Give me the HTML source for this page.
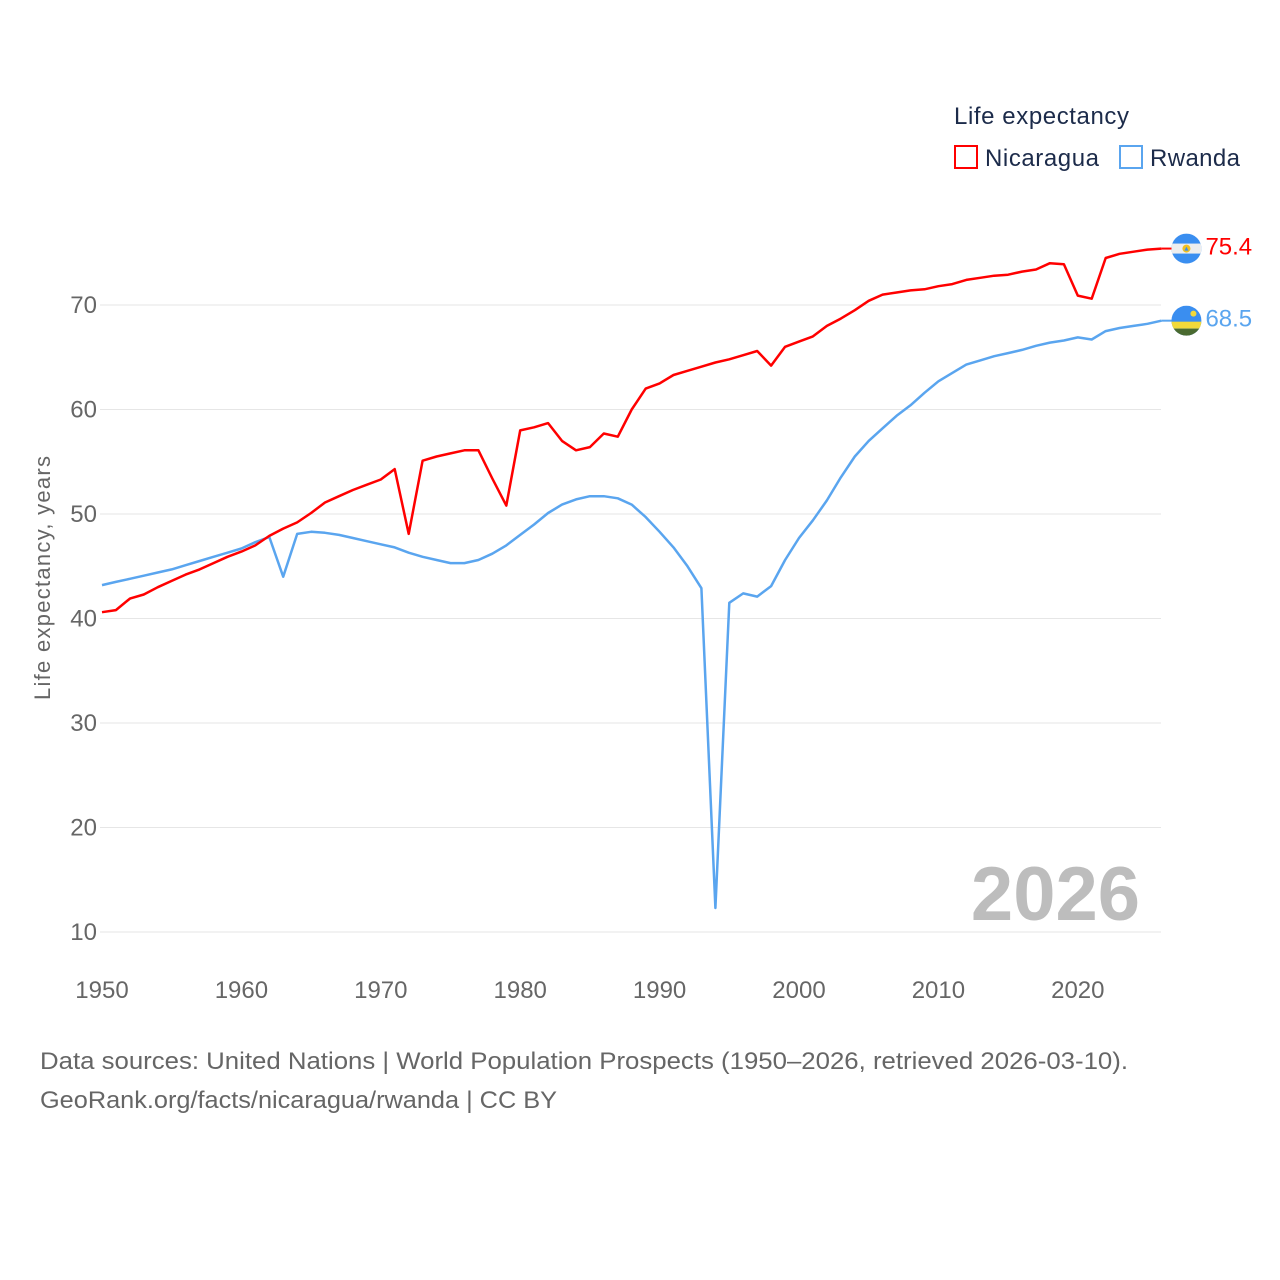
<!DOCTYPE html>
<html><head><meta charset="utf-8"><style>
body{margin:0;background:#fff;}
svg{display:block;font-family:"Liberation Sans",sans-serif;}
</style></head><body>
<svg id="chart" width="1280" height="1280" viewBox="0 0 1280 1280">
<g id="grid"></g>
<g id="yticks"></g>
<g id="xticks"></g>
<text x="50" y="578" transform="rotate(-90 50 578)" text-anchor="middle" font-size="22" fill="#666" textLength="244">Life expectancy, years</text>
<text x="1140" y="920" text-anchor="end" font-size="76" font-weight="bold" fill="#bdbdbd">2026</text>
<g id="lines"></g>
<g>
<text x="954" y="124" font-size="24" fill="#1c2b4a" textLength="175">Life expectancy</text>
<g><rect x="955" y="146" width="22" height="22" fill="none" stroke="#ff0000" stroke-width="2"/><text x="985" y="166" font-size="24" fill="#1c2b4a" textLength="114">Nicaragua</text></g>
<g><rect x="1120" y="146" width="22" height="22" fill="none" stroke="#5aa5ef" stroke-width="2"/><text x="1150" y="166" font-size="24" fill="#1c2b4a" textLength="90">Rwanda</text></g>
</g>
<g id="ends"></g>
<text x="40" y="1069" font-size="24" fill="#666" textLength="1088" lengthAdjust="spacingAndGlyphs">Data sources: United Nations | World Population Prospects (1950–2026, retrieved 2026-03-10).</text>
<text x="40" y="1108" font-size="24" fill="#666" textLength="517" lengthAdjust="spacingAndGlyphs">GeoRank.org/facts/nicaragua/rwanda | CC BY</text>
</svg>
<script>
const years=[];for(let y=1950;y<=2026;y++)years.push(y);
const nicaragua=[40.6,40.8,41.9,42.3,43.0,43.6,44.2,44.7,45.3,45.9,46.4,47.0,47.9,48.6,49.2,50.1,51.1,51.7,52.3,52.8,53.3,54.3,48.1,55.1,55.5,55.8,56.1,56.1,53.4,50.8,58.0,58.3,58.7,57.0,56.1,56.4,57.7,57.4,60.0,62.0,62.5,63.3,63.7,64.1,64.5,64.8,65.2,65.6,64.2,66.0,66.5,67.0,68.0,68.7,69.5,70.4,71.0,71.2,71.4,71.5,71.8,72.0,72.4,72.6,72.8,72.9,73.2,73.4,74.0,73.9,70.9,70.6,74.5,74.9,75.1,75.3,75.4];
const rwanda=[43.2,43.5,43.8,44.1,44.4,44.7,45.1,45.5,45.9,46.3,46.7,47.3,47.8,44.0,48.1,48.3,48.2,48.0,47.7,47.4,47.1,46.8,46.3,45.9,45.6,45.3,45.3,45.6,46.2,47.0,48.0,49.0,50.1,50.9,51.4,51.7,51.7,51.5,50.9,49.7,48.3,46.8,45.0,42.9,12.3,41.5,42.4,42.1,43.1,45.6,47.7,49.4,51.3,53.5,55.5,57.0,58.2,59.4,60.4,61.6,62.7,63.5,64.3,64.7,65.1,65.4,65.7,66.1,66.4,66.6,66.9,66.7,67.5,67.8,68.0,68.2,68.5];
const yTicks=[10,20,30,40,50,60,70];
const xTicks=[1950,1960,1970,1980,1990,2000,2010,2020];
const NS="http://www.w3.org/2000/svg";
const X=y=>102+(y-1950)*13.94;
const Y=v=>932-(v-10)*10.45;
function mk(tag,attrs,parent,txt){const e=document.createElementNS(NS,tag);for(const k in attrs)e.setAttribute(k,attrs[k]);if(txt!==undefined)e.textContent=txt;document.getElementById(parent).appendChild(e);return e;}
yTicks.forEach(v=>{
 const l=mk('line',{x1:100,x2:1161,y1:Y(v),y2:Y(v),stroke:'#e6e6e6','stroke-width':1},'grid');
 
 
 const t=mk('text',{x:97,y:Y(v)+8,'text-anchor':'end','font-size':24,fill:'#666'},'yticks',String(v));
 
 
});
xTicks.forEach(v=>{
 const t=mk('text',{x:X(v),y:998,'text-anchor':'middle','font-size':24,fill:'#666'},'xticks',String(v));
 
 
});
function line(data,color,name){
 const d=data.map((v,i)=>(i?'L':'M')+X(years[i]).toFixed(1)+' '+Y(v).toFixed(1)).join(' ');
 const p=mk('path',{d:d,fill:'none',stroke:color,'stroke-width':2.5,'stroke-linejoin':'round'},'lines');
 
 
}
line(rwanda,'#5aa5ef','line-rwanda');
line(nicaragua,'#ff0000','line-nicaragua');
function endLabel(data,color,name,flag){
 const v=data[data.length-1],x=X(years[years.length-1]),y=Y(v);
 mk('line',{x1:x,x2:x+12,y1:y,y2:y,stroke:color,'stroke-width':2},'ends');
 const g=mk('g',{transform:`translate(${x+25},${y})`},'ends');
 
 
 g.innerHTML=flag;
 const t=mk('text',{x:x+44,y:y+6,'font-size':24,fill:color},'ends',v.toFixed(1));
 
 
}
endLabel(nicaragua,'#ff0000','nicaragua','<clipPath id="c1"><circle r="15"/></clipPath><g clip-path="url(#c1)"><rect x="-15" y="-15" width="30" height="30" fill="#3a8ef0"/><rect x="-15" y="-5" width="30" height="10" fill="#eee"/><circle r="4" fill="#f0c020"/><path d="M-2 2L0-2L2 2Z" fill="#3a8ef0"/></g>');
endLabel(rwanda,'#5aa5ef','rwanda','<clipPath id="c2"><circle r="15"/></clipPath><g clip-path="url(#c2)"><rect x="-15" y="-15" width="30" height="30" fill="#3a8ef0"/><rect x="-15" y="1" width="30" height="7" fill="#f2d93a"/><rect x="-15" y="8" width="30" height="8" fill="#4a6a30"/><circle cx="7" cy="-7" r="3" fill="#f2d93a"/></g>');
</script>
</body></html>
